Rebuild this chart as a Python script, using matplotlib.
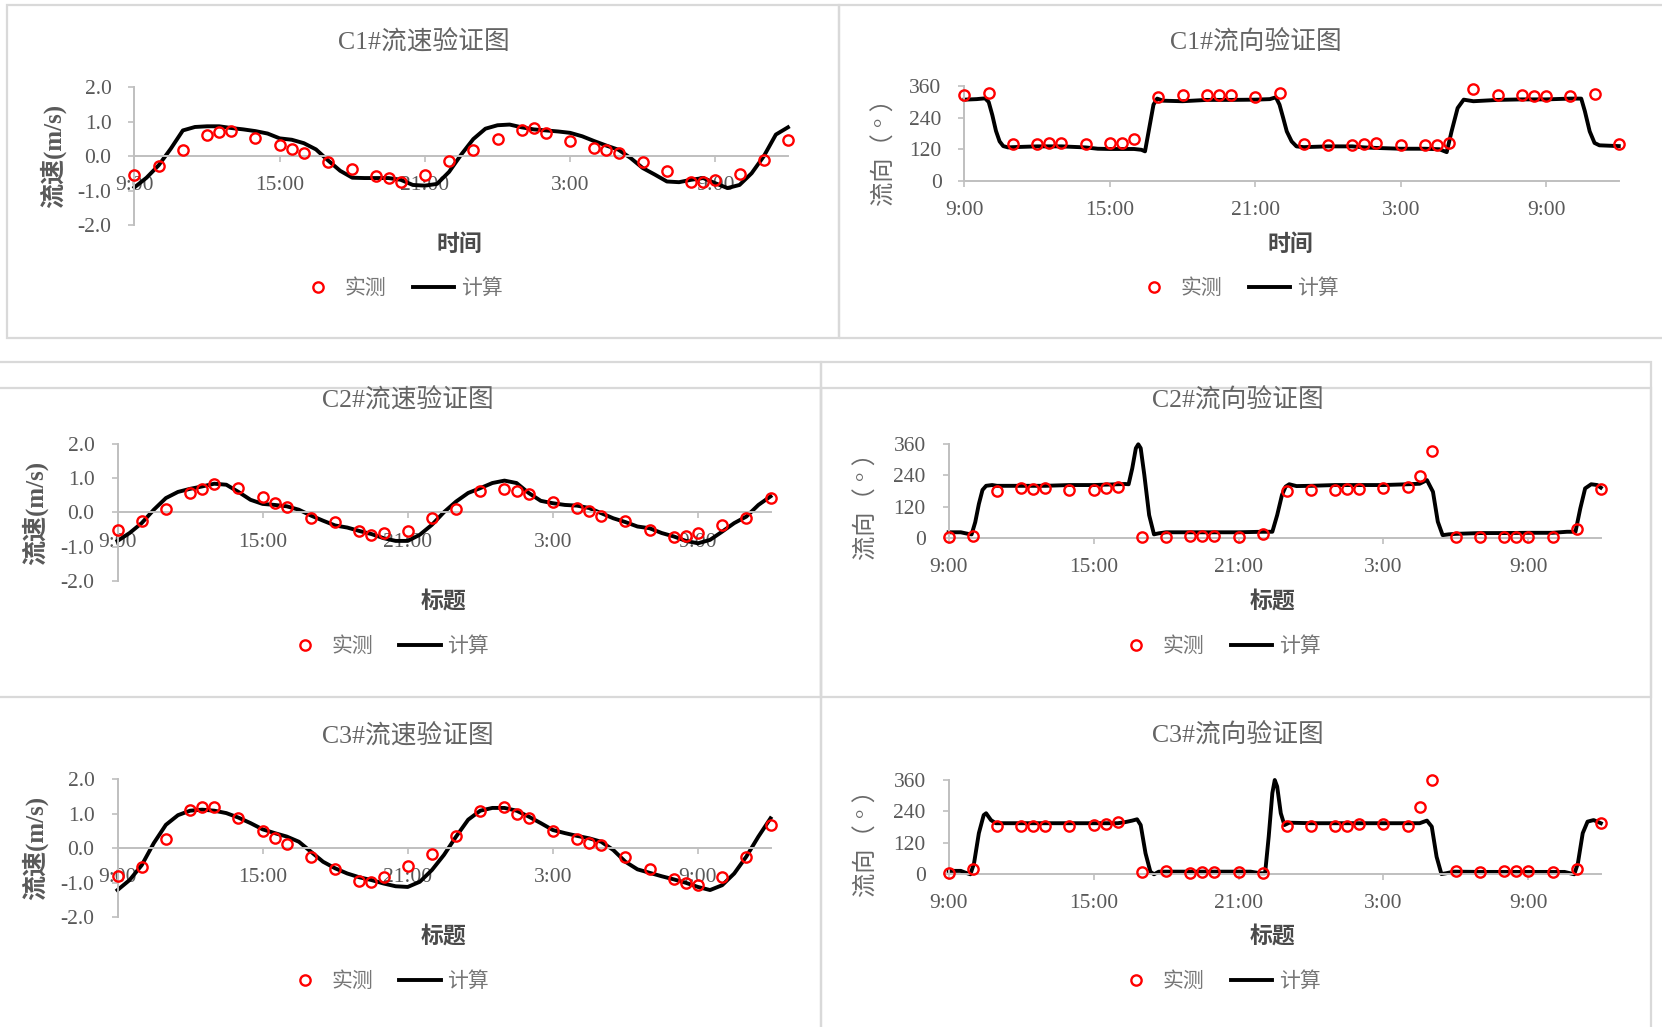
import matplotlib
matplotlib.use('Agg')
from matplotlib import pyplot as plt
from matplotlib.patches import Rectangle

plt.rcParams['font.family'] = ['Liberation Serif', 'Noto Sans CJK SC']

TEXT_GRAY = '#595959'
TITLE_GRAY = '#646464'
LEGEND_GRAY = '#767676'
LABEL_GRAY = '#4a4a4a'
AXIS_GRAY = '#bfbfbf'
BOX_GRAY = '#d9d9d9'

# hours after 9:00 on the first day
TIME_TICKS = [0, 6, 12, 18, 24]
TIME_LABELS = ['9:00', '15:00', '21:00', '3:00', '9:00']

OBS_T = [0, 1, 2, 3, 3.5, 4, 5, 6, 6.5, 7, 8, 9, 10, 10.5, 11, 12, 13, 14,
         15, 16, 16.5, 17, 18, 19, 19.5, 20, 21, 22, 23, 23.5, 24, 25, 26, 27]

SPD_T = [0, 0.5, 1, 1.5, 2, 2.5, 3, 3.5, 4, 4.5, 5, 5.5, 6, 6.5, 7, 7.5, 8, 8.5,
         9, 9.5, 10, 10.5, 11, 11.5, 12, 12.5, 13, 13.5, 14, 14.5, 15, 15.5,
         16, 16.5, 17, 17.5, 18, 18.5, 19, 19.5, 20, 20.5, 21, 21.5, 22, 22.5,
         23, 23.5, 24, 24.5, 25, 25.5, 26, 26.5, 27]

# ---- C1 ----
c1_spd_obs = [-0.55, -0.29, 0.17, 0.61, 0.70, 0.73, 0.53, 0.32, 0.20, 0.09,
              -0.17, -0.36, -0.57, -0.63, -0.75, -0.53, -0.14, 0.19, 0.51,
              0.75, 0.81, 0.67, 0.45, 0.24, 0.17, 0.09, -0.17, -0.42, -0.75,
              -0.75, -0.68, -0.50, -0.10, 0.46]
c1_spd_calc = [-0.90, -0.62, -0.26, 0.22, 0.75, 0.85, 0.87, 0.87, 0.82, 0.78,
               0.73, 0.66, 0.52, 0.48, 0.38, 0.20, -0.12, -0.42, -0.62, -0.63,
               -0.63, -0.63, -0.68, -0.83, -0.85, -0.80, -0.45, 0.05, 0.50,
               0.80, 0.90, 0.92, 0.84, 0.78, 0.75, 0.72, 0.68, 0.58, 0.44,
               0.31, 0.19, -0.05, -0.34, -0.53, -0.73, -0.75, -0.68, -0.63,
               -0.78, -0.92, -0.83, -0.49, 0.0, 0.63, 0.84]
c1_dir_obs = [326, 335, 140, 140, 142, 142, 140, 142, 142, 160, 318, 328, 326,
              326, 326, 321, 335, 140, 135, 135, 140, 145, 137, 137, 137, 144,
              351, 326, 326, 322, 322, 322, 332, 140]
c1_dir_t = [0, 0.5, 0.85, 1.0, 1.15, 1.3, 1.45, 1.6, 1.8, 2, 3, 4, 5, 5.5, 6,
            7, 7.3, 7.45, 7.6, 7.8, 7.95, 8.2, 9, 10, 11, 12, 12.6, 12.85,
            13.0, 13.15, 13.3, 13.5, 13.7, 14, 15, 16, 16.5, 17, 18, 19, 19.6,
            19.9, 20.1, 20.35, 20.6, 21, 22, 23, 24, 25, 25.45, 25.6, 25.8,
            26.0, 26.2, 27]
c1_dir_calc = [309, 311, 314, 300, 250, 190, 150, 132, 127, 128, 131, 131, 127,
               122, 121, 121, 118, 112, 188, 290, 313, 305, 303, 308, 308, 309,
               311, 318, 290, 240, 188, 150, 131, 128, 131, 131, 127, 125, 122,
               122, 120, 109, 188, 277, 309, 303, 308, 310, 310, 313, 313, 265,
               188, 144, 135, 132]

# ---- C2 ----
c2_spd_obs = [-0.51, -0.26, 0.11, 0.57, 0.69, 0.84, 0.71, 0.45, 0.27, 0.16,
              -0.15, -0.29, -0.53, -0.65, -0.59, -0.54, -0.17, 0.11, 0.63,
              0.69, 0.63, 0.55, 0.32, 0.13, 0.05, -0.10, -0.24, -0.51, -0.73,
              -0.70, -0.59, -0.36, -0.15, 0.42]
c2_spd_calc = [-0.83, -0.60, -0.31, 0.08, 0.42, 0.60, 0.69, 0.76, 0.84, 0.81,
               0.60, 0.37, 0.25, 0.22, 0.18, 0.08, -0.09, -0.24, -0.38, -0.44,
               -0.54, -0.63, -0.75, -0.83, -0.83, -0.65, -0.36, 0.01, 0.32,
               0.57, 0.71, 0.86, 0.93, 0.86, 0.57, 0.34, 0.27, 0.22, 0.20,
               0.13, -0.02, -0.17, -0.28, -0.41, -0.46, -0.60, -0.70, -0.83,
               -0.90, -0.80, -0.56, -0.31, -0.12, 0.22, 0.47]
c2_dir_obs = [3, 8, 180, 190, 186, 190, 184, 184, 190, 194, 2, 3, 5, 5, 5, 4,
              14, 180, 184, 184, 188, 188, 190, 197, 239, 334, 2, 2, 4, 4, 4,
              4, 32, 186]
c2_dir_t = [0, 0.5, 0.8, 0.95, 1.1, 1.25, 1.4, 1.55, 1.8, 2, 3, 4, 5, 6, 7,
            7.3, 7.45, 7.6, 7.75, 7.85, 7.95, 8.1, 8.3, 8.5, 8.7, 9, 10, 11,
            12, 13, 13.4, 13.6, 13.8, 13.95, 14.1, 14.4, 15, 16, 17, 18, 19,
            19.5, 19.8, 20.05, 20.25, 20.45, 20.7, 21, 22, 23, 24, 25, 25.6,
            25.95, 26.15, 26.35, 26.6, 26.85, 27]
c2_dir_calc = [21, 21, 15, 13, 60, 130, 184, 200, 203, 200, 200, 200, 203, 203,
               206, 207, 206, 267, 345, 360, 345, 242, 87, 13, 17, 21, 21, 21,
               21, 23, 23, 87, 165, 197, 206, 199, 200, 203, 203, 203, 206, 208,
               222, 177, 62, 10, 13, 15, 18, 18, 19, 19, 23, 23, 113, 190, 206,
               203, 193]

# ---- C3 ----
c3_spd_obs = [-0.81, -0.53, 0.26, 1.10, 1.19, 1.19, 0.89, 0.49, 0.29, 0.13,
              -0.26, -0.61, -0.95, -0.99, -0.84, -0.51, -0.17, 0.36, 1.09,
              1.21, 1.00, 0.87, 0.49, 0.26, 0.15, 0.10, -0.26, -0.61, -0.90,
              -1.02, -1.07, -0.83, -0.26, 0.68]
c3_spd_calc = [-1.21, -0.92, -0.49, 0.15, 0.68, 0.96, 1.09, 1.12, 1.09, 1.02,
               0.89, 0.73, 0.55, 0.44, 0.34, 0.19, -0.10, -0.39, -0.58, -0.73,
               -0.84, -0.92, -1.02, -1.10, -1.12, -0.97, -0.63, -0.19, 0.34,
               0.83, 1.09, 1.17, 1.17, 1.09, 0.92, 0.73, 0.53, 0.44, 0.36,
               0.29, 0.19, -0.05, -0.39, -0.61, -0.71, -0.81, -0.90, -1.00,
               -1.12, -1.21, -1.07, -0.73, -0.24, 0.34, 0.87]
c3_dir_obs = [3, 20, 186, 186, 186, 186, 186, 188, 191, 201, 10, 14, 6, 10, 10,
              10, 6, 186, 186, 186, 186, 191, 191, 186, 258, 360, 13, 10, 13,
              13, 13, 10, 20, 195]
c3_dir_t = [0, 0.5, 0.7, 0.9, 1.05, 1.25, 1.45, 1.55, 1.75, 1.95, 2.5, 3, 4, 5,
            6, 7, 7.3, 7.6, 7.8, 7.95, 8.15, 8.35, 8.5, 8.7, 9, 10, 11, 12,
            12.5, 12.9, 13.1, 13.25, 13.4, 13.5, 13.6, 13.75, 13.9, 14.1, 15,
            16, 17, 18, 19, 19.5, 19.8, 20.0, 20.2, 20.4, 20.6, 20.9, 22, 23,
            24, 25, 25.5, 25.9, 26.05, 26.25, 26.45, 26.7, 27]
c3_dir_calc = [13, 13, 6, 0, 42, 157, 226, 233, 207, 195, 195, 195, 195, 195,
               195, 195, 199, 205, 210, 188, 80, 10, 0, 10, 10, 10, 10, 10, 10,
               4, 4, 144, 310, 360, 335, 233, 188, 197, 195, 195, 195, 195, 195,
               195, 205, 182, 67, 1, 4, 10, 9, 9, 9, 9, 9, 0, 42, 157, 201, 207,
               195]


def draw_panel(fig, rect, calc_t, calc_v, obs_v, kind, title, xlabel,
               title_xy, xlabel_xy, ylabel_xy, legend_xy):
    ax = fig.add_axes(rect)
    line, = ax.plot(calc_t, calc_v, color='black', lw=2.8, zorder=2,
                    solid_joinstyle='round', clip_on=False)
    pts, = ax.plot(OBS_T, obs_v, 'o', ms=7.4, mfc='none', mec='#ff0000',
                   mew=1.7, zorder=3, clip_on=False)

    ax.set_xlim(0, 27)
    if kind == 'speed':
        ax.set_ylim(-2, 2)
        ax.set_yticks([-2, -1, 0, 1, 2])
        ax.set_yticklabels(['-2.0', '-1.0', '0.0', '1.0', '2.0'])
        ax.spines['bottom'].set_position(('data', 0))
        fig.text(*ylabel_xy, '流速(m/s)', ha='center', va='center',
                 rotation=90, fontsize=18, fontweight='bold', color=TEXT_GRAY)
    else:
        ax.set_ylim(0, 360)
        ax.set_yticks([0, 120, 240, 360])
        fig.text(*ylabel_xy, '流向（ ° ）', ha='center', va='center',
                 rotation=90, fontsize=17.5, color='#6a6a6a')
    ax.set_xticks(TIME_TICKS)
    ax.set_xticklabels(TIME_LABELS)

    for side in ('top', 'right'):
        ax.spines[side].set_visible(False)
    for side in ('left', 'bottom'):
        ax.spines[side].set_color(AXIS_GRAY)
        ax.spines[side].set_linewidth(1.4)
    ax.tick_params(axis='both', direction='out', length=4.5, width=1.2,
                   colors=AXIS_GRAY, labelcolor=TEXT_GRAY, labelsize=15.5)
    ax.tick_params(axis='x', pad=10)
    ax.tick_params(axis='y', pad=12)
    ax.patch.set_visible(False)

    fig.text(*title_xy, title, ha='center', va='center', fontsize=18.5,
             color=TITLE_GRAY)
    fig.text(*xlabel_xy, xlabel, ha='center', va='center', fontsize=16.5,
             fontweight='bold', color=LABEL_GRAY)
    ax.legend([pts, line], ['实测', '计算'], loc='center',
              bbox_to_anchor=legend_xy, bbox_transform=fig.transFigure,
              ncol=2, frameon=False, fontsize=15, handlelength=2.0,
              handletextpad=0.3, columnspacing=1.25, labelcolor=LEGEND_GRAY)
    return ax


fig = plt.figure(figsize=(16.62, 10.27), dpi=100)

# panel frames
frames = [(0.0045, 0.6709, 0.5003, 0.3242), (0.5048, 0.6709, 0.52, 0.3242),
          (-0.01, 0.3216, 0.504, 0.3262), (0.494, 0.3216, 0.4994, 0.3262),
          (-0.01, -0.02, 0.504, 0.6426), (0.494, -0.02, 0.4994, 0.6426)]
for x0, y0, w, h in frames:
    fig.add_artist(Rectangle((x0, y0), w, h, transform=fig.transFigure,
                             fill=False, ec=BOX_GRAY, lw=1.6))

draw_panel(fig, [0.0809, 0.7806, 0.3932, 0.1344], SPD_T, c1_spd_calc,
           c1_spd_obs, 'speed', 'C1#流速验证图', '时间',
           (0.2551, 0.9585), (0.2761, 0.7616), (0.0319, 0.848), (0.2405, 0.7185))
draw_panel(fig, [0.5803, 0.824, 0.3937, 0.092], c1_dir_t, c1_dir_calc,
           c1_dir_obs, 'dir', 'C1#流向验证图', '时间',
           (0.7557, 0.9585), (0.7761, 0.7616), (0.5325, 0.857), (0.7435, 0.7185))
draw_panel(fig, [0.0707, 0.4343, 0.3929, 0.1334], SPD_T, c2_spd_calc,
           c2_spd_obs, 'speed', 'C2#流速验证图', '标题',
           (0.2455, 0.6105), (0.2666, 0.4139), (0.021, 0.5005), (0.2325, 0.3697))
draw_panel(fig, [0.5708, 0.4764, 0.3924, 0.091], c2_dir_t, c2_dir_calc,
           c2_dir_obs, 'dir', 'C2#流向验证图', '标题',
           (0.7449, 0.6105), (0.7659, 0.4139), (0.5217, 0.513), (0.7327, 0.3697))
draw_panel(fig, [0.0707, 0.1068, 0.3929, 0.1344], SPD_T, c3_spd_calc,
           c3_spd_obs, 'speed', 'C3#流速验证图', '标题',
           (0.2455, 0.2834), (0.2666, 0.0878), (0.021, 0.1744), (0.2325, 0.0436))
draw_panel(fig, [0.5708, 0.1487, 0.3924, 0.0918], c3_dir_t, c3_dir_calc,
           c3_dir_obs, 'dir', 'C3#流向验证图', '标题',
           (0.7449, 0.2834), (0.7659, 0.0878), (0.5217, 0.1847), (0.7327, 0.0436))

fig.savefig('out.png', dpi=100, facecolor='white')
